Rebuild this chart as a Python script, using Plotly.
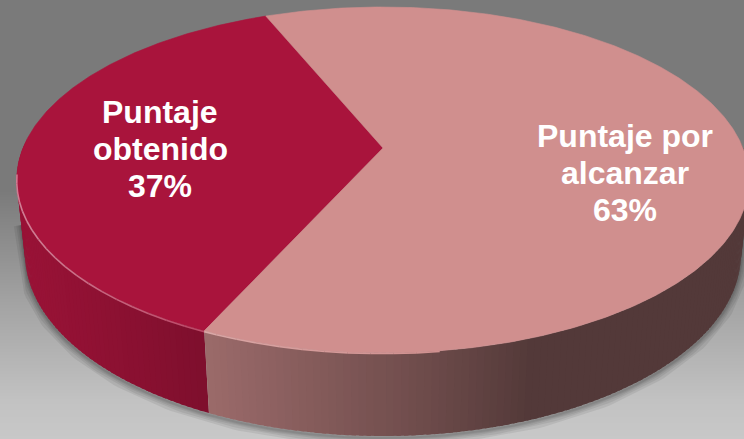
import numpy as np
import plotly.graph_objects as go

# ---- data -------------------------------------------------------------
categories = ["Puntaje obtenido", "Puntaje por alcanzar"]
values = [37, 63]
label_lines = [["Puntaje", "obtenido"], ["Puntaje por", "alcanzar"]]

# ---- styling ------------------------------------------------------------
slice_colors = [(169, 20, 60), (208, 143, 142)]
label_pos = [(160, 112), (625, 136)]      # centre of first label line (px)
LINE_GAP = 37
FONT = "Liberation Sans, Arial, sans-serif"

W, H = 744, 439
CX, CY = 383, 148          # projected pie centre
SCALE = 360                # radius in px at the centre depth
SIN_E = 0.464              # camera elevation
COS_E = np.sqrt(1 - SIN_E ** 2)
DIST = 4.8                 # camera distance in radii
THICK = 0.233              # pie height in radii
START = 204.4              # first slice start, degrees clockwise from 12 o'clock
LIGHT_DIR = 250.0


def project(phi_deg, z=0.0, r=1.0):
    phi = np.radians(phi_deg)
    X = r * np.sin(phi)
    Y = r * np.cos(phi)
    v = Y * SIN_E + z * COS_E
    w = DIST + Y * COS_E - z * SIN_E
    return CX + SCALE * DIST * X / w, CY - SCALE * DIST * v / w


def rgb(c, k=1.0, add=0.0):
    r, g, b = [min(255, int(round(ch * k + (255 - ch * k) * add))) for ch in c]
    return f"rgb({r},{g},{b})"


total = sum(values)
spans = [360.0 * v / total for v in values]
bounds = []
a = START
for s in spans:
    bounds.append((a, a + s))
    a += s

fig = go.Figure()

# background gradient
ys = np.arange(0, H + 2, 2)
gray = np.interp(ys, [0, 190, 300, 400, 439], [122, 122, 162, 194, 200])
fig.add_trace(go.Heatmap(
    x=[0, W], y=ys, z=np.column_stack([gray, gray]),
    colorscale=[[0, "rgb(122,122,122)"], [1, "rgb(200,200,200)"]],
    zmin=122, zmax=200, zsmooth="best", showscale=False, hoverinfo="skip"))

# soft shadow under the front wall
vis_lo, vis_hi = 100.0, 260.0
sh_phi = np.linspace(vis_lo, vis_hi, 200)
sx0, sy0 = project(vis_hi, -THICK * 0.6)
bx, by = project(sh_phi[::-1], -THICK)
sx1, sy1 = project(vis_lo, -THICK * 0.6)
shx = np.concatenate([[sx0], bx, [sx1]])
shy = np.concatenate([[sy0], by, [sy1]]) + 2
for wdt in (16, 11, 7, 4, 2):
    fig.add_trace(go.Scatter(x=shx, y=shy, mode="lines",
                             line=dict(color="rgba(0,0,0,0.07)", width=wdt),
                             hoverinfo="skip"))

# side wall, shaded strip by strip (each strip overlaps the next a little)
strips = []
for (a0, a1), col in zip(bounds, slice_colors):
    edges = np.arange(a0, a1, 1.0)
    edges = np.append(edges, a1)
    for p0, p1 in zip(edges[:-1], edges[1:]):
        pm = 0.5 * (p0 + p1)
        cz = np.cos(np.radians(pm))
        if cz > 0.05:
            continue
        k = 0.40 + 0.50 * max(0.0, np.cos(np.radians(pm - LIGHT_DIR)))
        q1 = min(p1 + 0.6, a1)
        seg = np.linspace(p0, q1, 3)
        xa, ya = project(seg, 0.0)
        xb, yb = project(seg[::-1], -THICK)
        strips.append((-cz, np.concatenate([xa, xb]),
                       np.concatenate([ya, yb]), rgb(col, k)))
strips.sort(key=lambda s: s[0])          # far strips first
for _, sx, sy, c in strips:
    fig.add_trace(go.Scatter(
        x=sx, y=sy, mode="lines", fill="toself", fillcolor=c,
        line=dict(color=c, width=0), hoverinfo="skip"))

# top faces
for (a0, a1), col in zip(bounds, slice_colors):
    arc = np.linspace(a0, a1, int((a1 - a0) * 2) + 2)
    ax_, ay_ = project(arc, 0.0)
    fig.add_trace(go.Scatter(
        x=np.concatenate([[CX], ax_, [CX]]),
        y=np.concatenate([[CY], ay_, [CY]]),
        mode="lines", fill="toself", fillcolor=rgb(col),
        line=dict(color=rgb(col), width=0.6), hoverinfo="skip"))

# bevel highlight along the front rim
for (a0, a1), col in zip(bounds, slice_colors):
    edges = np.arange(a0, a1, 3.0)
    edges = np.append(edges, a1)
    for p0, p1 in zip(edges[:-1], edges[1:]):
        pm = 0.5 * (p0 + p1)
        if np.cos(np.radians(pm)) > -0.15:
            continue
        amt = 0.45 * max(0.0, np.cos(np.radians(pm - LIGHT_DIR))) ** 2
        if amt < 0.02:
            continue
        seg = np.linspace(p0, p1, 5)
        rx, ry = project(seg, 0.0)
        fig.add_trace(go.Scatter(x=rx, y=ry + 0.8, mode="lines",
                                 line=dict(color=rgb(col, 1.0, amt), width=1.6),
                                 hoverinfo="skip"))

# labels
annotations = []
for lines, v, (lx, ly) in zip(label_lines, values, label_pos):
    text_lines = lines + [f"{round(100 * v / total)}%"]
    for i, t in enumerate(text_lines):
        annotations.append(dict(
            x=lx, y=ly + i * LINE_GAP, xref="x", yref="y", text=t,
            showarrow=False, xanchor="center", yanchor="middle",
            font=dict(family=FONT, size=32, color="white", weight="bold")))

fig.update_layout(
    width=W, height=H, autosize=False,
    margin=dict(l=0, r=0, t=0, b=0, pad=0),
    paper_bgcolor="rgb(122,122,122)", plot_bgcolor="rgb(122,122,122)",
    showlegend=False, annotations=annotations,
    xaxis=dict(range=[0, W], visible=False, fixedrange=True),
    yaxis=dict(range=[H, 0], visible=False, fixedrange=True),
)

fig.write_html("out.html")
